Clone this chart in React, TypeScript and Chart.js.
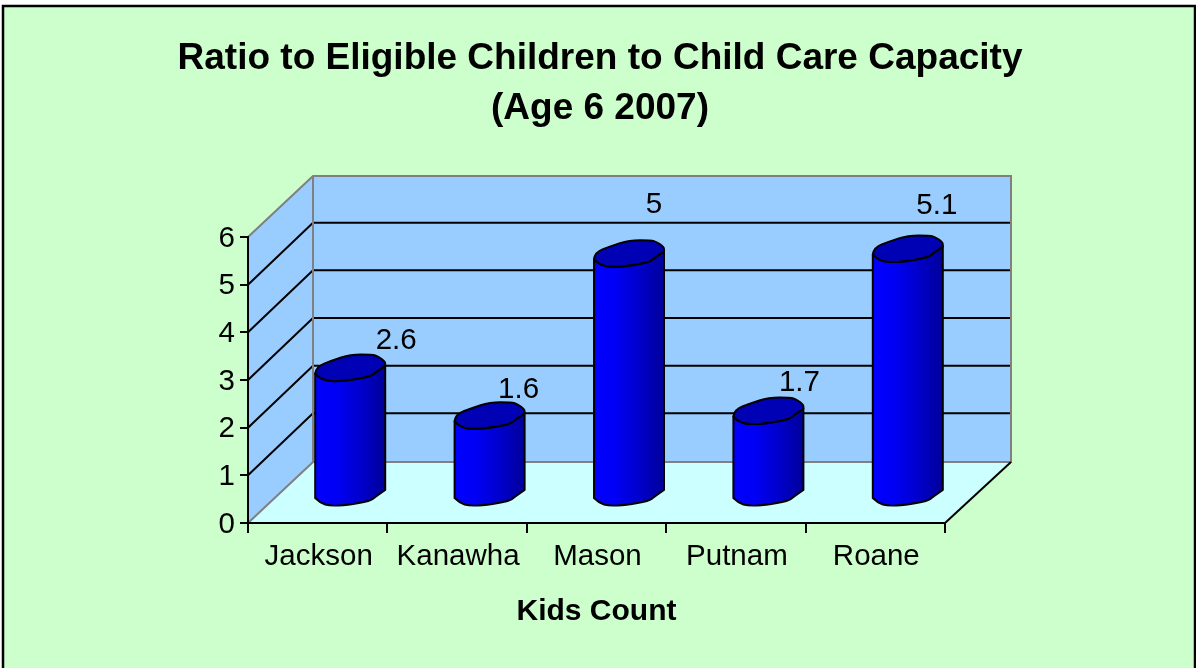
import React, { useEffect, useRef } from "react";
import { Chart, registerables, BarController, BarElement } from "chart.js";

const categories = ["Jackson", "Kanawha", "Mason", "Putnam", "Roane"];
const ratios = [2.6, 1.6, 5, 1.7, 5.1];
const yTicks = [0, 1, 2, 3, 4, 5, 6];
const titleLines = ["Ratio to Eligible Children to Child Care Capacity", "(Age 6 2007)"];
const xTitle = "Kids Count";

const FONT = "'Liberation Sans', Arial, sans-serif";
const DEPTH_X = 65;
const DEPTH_Y = 61;
const LABEL_OFFSETS = [[46, -28], [29, -26], [25, -49], [31, -29], [29, -44]];

// Outline of the faceted cylinder cap, relative to its centre, in pixels
const CAP_BACK = [[-35, 5], [-34, -2], [-18, -8], [0, -14], [22, -14], [28, -12], [35, -7], [35, -3]];
const CAP_FRONT = [[35, -3], [25, 4], [20, 8], [-3, 12], [-20, 13], [-30, 10], [-35, 5]];

function smooth(ctx: CanvasRenderingContext2D, pts: number[][], cx: number, cy: number, move: boolean) {
  if (move) ctx.moveTo(cx + pts[0][0], cy + pts[0][1]);
  else ctx.lineTo(cx + pts[0][0], cy + pts[0][1]);
  for (let i = 1; i < pts.length - 1; i++) {
    const mx = (pts[i][0] + pts[i + 1][0]) / 2;
    const my = (pts[i][1] + pts[i + 1][1]) / 2;
    ctx.quadraticCurveTo(cx + pts[i][0], cy + pts[i][1], cx + mx, cy + my);
  }
  const last = pts[pts.length - 1];
  ctx.lineTo(cx + last[0], cy + last[1]);
}

class CylinderElement extends BarElement {
  static id = "cylinder";
  draw(ctx: CanvasRenderingContext2D) {
    const { x, y, base } = (this as any).getProps(["x", "y", "base"], true);
    const cx = x + DEPTH_X / 2;
    const top = y - DEPTH_Y / 2;
    const bottom = base - DEPTH_Y / 2 + 1.5;
    ctx.save();
    ctx.lineJoin = "round";
    ctx.lineWidth = 2;
    ctx.strokeStyle = "#000";

    const grad = ctx.createLinearGradient(cx - 35, 0, cx + 35, 0);
    grad.addColorStop(0, "#0000FF");
    grad.addColorStop(0.3, "#0000F5");
    grad.addColorStop(0.65, "#0000CC");
    grad.addColorStop(1, "#00009A");

    ctx.beginPath();
    smooth(ctx, CAP_FRONT, cx, top, true);
    smooth(ctx, [...CAP_FRONT].reverse(), cx, bottom, false);
    ctx.closePath();
    ctx.fillStyle = grad;
    ctx.fill();
    ctx.stroke();

    ctx.beginPath();
    smooth(ctx, CAP_BACK, cx, top, true);
    smooth(ctx, CAP_FRONT, cx, top, false);
    ctx.closePath();
    ctx.fillStyle = "#0000B4";
    ctx.fill();
    ctx.stroke();
    ctx.restore();
  }
}

class CylinderController extends BarController {
  static id = "cylinder3d";
  static defaults = { ...(BarController as any).defaults, dataElementType: "cylinder" };
}

Chart.register(...registerables, CylinderElement as any, CylinderController as any);

const scenePlugin = {
  id: "scene",
  beforeDraw(chart: any) {
    const { ctx, chartArea: a, scales } = chart;
    const bl = a.left, br = a.right, bb = a.bottom, bt = a.top;
    ctx.save();
    // frame
    ctx.fillStyle = "#CCFFCC";
    ctx.fillRect(3, 6, 1192, 670);
    ctx.strokeStyle = "#000";
    ctx.lineWidth = 2.5;
    ctx.strokeRect(3, 6, 1192, 670);

    // walls and floor
    ctx.fillStyle = "#99CCFF";
    ctx.beginPath();
    ctx.moveTo(bl, bb);
    ctx.lineTo(bl + DEPTH_X, bb - DEPTH_Y);
    ctx.lineTo(bl + DEPTH_X, bt - DEPTH_Y);
    ctx.lineTo(bl, bt);
    ctx.closePath();
    ctx.fill();
    ctx.fillRect(bl + DEPTH_X, bt - DEPTH_Y, br - bl + 1, bb - bt);
    ctx.fillStyle = "#CCFFFF";
    ctx.beginPath();
    ctx.moveTo(bl, bb);
    ctx.lineTo(br, bb);
    ctx.lineTo(br + DEPTH_X + 1, bb - DEPTH_Y);
    ctx.lineTo(bl + DEPTH_X, bb - DEPTH_Y);
    ctx.closePath();
    ctx.fill();

    // gridlines
    ctx.strokeStyle = "#000";
    ctx.lineWidth = 2;
    yTicks.slice(1, -1).forEach((t) => {
      const py = scales.y.getPixelForValue(t) - 1;
      ctx.beginPath();
      ctx.moveTo(bl, py + 1);
      ctx.lineTo(bl + DEPTH_X, py - DEPTH_Y);
      ctx.lineTo(br + DEPTH_X + 1, py - DEPTH_Y);
      ctx.stroke();
    });

    // grey edges
    ctx.strokeStyle = "#808080";
    ctx.beginPath();
    ctx.moveTo(bl, bb);
    ctx.lineTo(bl + DEPTH_X, bb - DEPTH_Y);
    ctx.lineTo(bl + DEPTH_X, bt - DEPTH_Y);
    ctx.moveTo(bl, bt);
    ctx.lineTo(bl + DEPTH_X, bt - DEPTH_Y);
    ctx.lineTo(br + DEPTH_X + 1, bt - DEPTH_Y);
    ctx.lineTo(br + DEPTH_X + 1, bb - DEPTH_Y);
    ctx.lineTo(bl + DEPTH_X, bb - DEPTH_Y);
    ctx.stroke();

    // floor front-right edge
    ctx.strokeStyle = "#000";
    ctx.beginPath();
    ctx.moveTo(br, bb);
    ctx.lineTo(br + DEPTH_X + 1, bb - DEPTH_Y);
    ctx.stroke();
    ctx.restore();
  },
  afterDatasetsDraw(chart: any) {
    const { ctx } = chart;
    const els = chart.getDatasetMeta(0).data;
    ctx.save();
    ctx.font = `29.5px ${FONT}`;
    ctx.fillStyle = "#000";
    ctx.textAlign = "center";
    ctx.textBaseline = "middle";
    els.forEach((el: any, i: number) => {
      ctx.fillText(String(ratios[i]), el.x + DEPTH_X / 2 + LABEL_OFFSETS[i][0], el.y - DEPTH_Y / 2 + LABEL_OFFSETS[i][1]);
    });
    ctx.restore();
  },
};

export default function App() {
  const ref = useRef<HTMLCanvasElement>(null);
  useEffect(() => {
    const chart = new Chart(ref.current!, {
      type: "cylinder3d" as any,
      data: {
        labels: categories,
        datasets: [{ data: ratios, categoryPercentage: 1, barPercentage: 0.5, backgroundColor: "#0000FF", clip: false, yAxisID: "y" } as any],
      },
      plugins: [scenePlugin],
      options: {
        animation: false,
        responsive: false,
        devicePixelRatio: 1,
        events: [],
        indexAxis: "x",
        layout: { padding: 0 },
        plugins: {
          legend: { display: false },
          tooltip: { enabled: false },
          title: {
            display: true,
            text: titleLines,
            color: "#000",
            font: { family: FONT, size: 37, weight: "bold", lineHeight: 50 / 37 },
            padding: { top: 34, bottom: 103 },
          },
        },
        scales: {
          x: {
            type: "category",
            offset: true,
            afterFit: (s: any) => { s.height = 145; },
            grid: { offset: true, drawOnChartArea: false, drawTicks: true, tickLength: 10, color: "#000", lineWidth: 2 },
            border: { color: "#000", width: 2 },
            ticks: { color: "#000", font: { family: FONT, size: 29.5 }, padding: 6, maxRotation: 0, labelOffset: 1 },
            title: {
              display: true,
              text: xTitle,
              color: "#000",
              font: { family: FONT, size: 30, weight: "bold" },
              padding: { top: 0, bottom: 38 },
            },
          },
          y: {
            type: "linear",
            min: 0,
            max: 6,
            afterFit: (s: any) => { s.width = 248; },
            grid: { drawOnChartArea: false, drawTicks: true, tickLength: 8, color: "#000", lineWidth: 2 },
            border: { color: "#000", width: 2 },
            ticks: { color: "#000", stepSize: 1, font: { family: FONT, size: 29.5 }, padding: 5, labelOffset: 1.5 },
          },
          rightSpace: {
            type: "linear",
            position: "right",
            afterFit: (s: any) => { s.width = 255; },
            grid: { display: false },
            border: { display: false },
            ticks: { display: false },
          },
        },
      } as any,
    });
    return () => chart.destroy();
  }, []);
  return (
    <div style={{ position: "fixed", left: 0, top: 0, width: 1196, height: 668, overflow: "hidden", background: "#fff" }}>
      <canvas ref={ref} width={1200} height={668} style={{ display: "block" }} />
    </div>
  );
}
